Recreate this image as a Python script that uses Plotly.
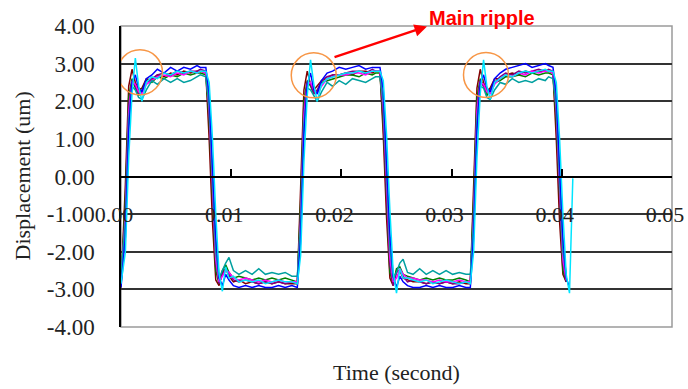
import plotly.graph_objects as go

# ---------------- data (seconds, um) ----------------
time_s = [
    0.0000, 0.0004, 0.0007, 0.0010, 0.0013, 0.0016, 0.0019, 0.0023, 0.0028, 0.0033, 0.0039, 0.0045, 0.0051, 0.0057, 0.0063, 0.0069, 0.0072,
    0.0077, 0.0080, 0.0083, 0.0086, 0.0089, 0.0092, 0.0095, 0.0098, 0.0102, 0.0107, 0.0113, 0.0119, 0.0125, 0.0131, 0.0137, 0.0143, 0.0149, 0.0155,
    0.0160, 0.0163, 0.0166, 0.0169, 0.0172, 0.0175, 0.0178, 0.0182, 0.0187, 0.0192, 0.0198, 0.0204, 0.0210, 0.0216, 0.0222, 0.0228, 0.0231,
    0.0235, 0.0238, 0.0241, 0.0244, 0.0247, 0.0250, 0.0253, 0.0256, 0.0260, 0.0265, 0.0271, 0.0277, 0.0283, 0.0289, 0.0295, 0.0301, 0.0307, 0.0313,
    0.0317, 0.0320, 0.0323, 0.0326, 0.0329, 0.0332, 0.0335, 0.0339, 0.0344, 0.0349, 0.0355, 0.0361, 0.0367, 0.0373, 0.0379, 0.0385, 0.0388,
    0.0392, 0.0395, 0.0398, 0.0401, 0.0404, 0.0407, 0.0410,
]

maroon = (
    [-2.95, -0.2, 2.4, 2.85, 2.5, 2.3, 2.35, 2.6, 2.55, 2.7, 2.65, 2.75, 2.7, 2.8, 2.75, 2.8, 2.8]
    + [2.75, 1.0, -1.2, -2.75, -2.9, -2.55, -2.45, -2.65, -2.8, -2.75, -2.85, -2.8, -2.85, -2.8, -2.85, -2.8, -2.85, -2.85]
    + [-2.85, -0.3, 2.3, 2.8, 2.45, 2.3, 2.4, 2.55, 2.6, 2.7, 2.7, 2.75, 2.7, 2.8, 2.8, 2.75, 2.8]
    + [2.8, 1.1, -1.1, -2.7, -2.9, -2.5, -2.5, -2.7, -2.75, -2.8, -2.8, -2.85, -2.8, -2.85, -2.8, -2.85, -2.8, -2.85]
    + [-2.85, -0.2, 2.35, 2.85, 2.5, 2.25, 2.35, 2.6, 2.6, 2.7, 2.75, 2.7, 2.8, 2.75, 2.8, 2.8, 2.8]
    + [2.75, 1.0, -1.2, -2.6, -2.8, None, None]
)
green = (
    [-2.9, -0.6, 2.1, 2.6, 2.35, 2.15, 2.3, 2.55, 2.5, 2.65, 2.6, 2.7, 2.65, 2.75, 2.7, 2.75, 2.75]
    + [2.7, 1.5, -0.7, -2.5, -2.85, -2.5, -2.35, -2.55, -2.7, -2.65, -2.7, -2.75, -2.7, -2.75, -2.7, -2.75, -2.7, -2.75]
    + [-2.8, -0.7, 2.0, 2.55, 2.4, 2.2, 2.25, 2.5, 2.55, 2.6, 2.65, 2.7, 2.7, 2.65, 2.75, 2.7, 2.75]
    + [2.75, 1.4, -0.8, -2.55, -2.85, -2.45, -2.4, -2.6, -2.65, -2.7, -2.75, -2.7, -2.75, -2.7, -2.75, -2.75, -2.7, -2.75]
    + [-2.8, -0.6, 2.1, 2.6, 2.4, 2.15, 2.3, 2.5, 2.55, 2.65, 2.65, 2.7, 2.65, 2.75, 2.7, 2.75, 2.75]
    + [2.7, 1.5, -0.7, -2.5, -2.8, None, None]
)
purple = (
    [-2.85, -0.9, 1.9, 2.55, 2.4, 2.2, 2.25, 2.5, 2.6, 2.7, 2.75, 2.7, 2.8, 2.75, 2.8, 2.8, 2.85]
    + [2.8, 1.7, -0.4, -2.3, -2.85, -2.6, -2.45, -2.6, -2.75, -2.8, -2.75, -2.8, -2.85, -2.8, -2.85, -2.8, -2.85, -2.8]
    + [-2.85, -1.0, 1.8, 2.5, 2.45, 2.2, 2.3, 2.55, 2.65, 2.7, 2.7, 2.75, 2.8, 2.8, 2.75, 2.85, 2.8]
    + [2.8, 1.6, -0.5, -2.35, -2.9, -2.55, -2.5, -2.65, -2.8, -2.75, -2.8, -2.85, -2.8, -2.85, -2.8, -2.85, -2.85, -2.8]
    + [-2.8, -0.9, 1.9, 2.55, 2.4, 2.25, 2.25, 2.5, 2.65, 2.75, 2.7, 2.8, 2.75, 2.8, 2.85, 2.8, 2.85]
    + [2.8, 1.7, -0.4, -2.3, -2.8, None, None]
)
magenta = (
    [-2.8, -1.1, 1.7, 2.5, 2.45, 2.25, 2.2, 2.45, 2.55, 2.65, 2.7, 2.65, 2.75, 2.7, 2.8, 2.75, 2.8]
    + [2.75, 1.8, -0.2, -2.2, -2.8, -2.65, -2.5, -2.55, -2.7, -2.75, -2.7, -2.75, -2.8, -2.75, -2.8, -2.75, -2.8, -2.8]
    + [-2.8, -1.2, 1.6, 2.45, 2.5, 2.3, 2.2, 2.4, 2.6, 2.65, 2.7, 2.7, 2.75, 2.75, 2.7, 2.8, 2.8]
    + [2.8, 1.9, -0.1, -2.15, -2.8, -2.7, -2.45, -2.6, -2.7, -2.7, -2.75, -2.75, -2.8, -2.75, -2.8, -2.8, -2.75, -2.8]
    + [-2.8, -1.1, 1.7, 2.5, 2.45, 2.25, 2.2, 2.45, 2.6, 2.7, 2.65, 2.75, 2.7, 2.8, 2.75, 2.8, 2.8]
    + [2.75, 1.8, -0.2, -2.2, -2.75, None, None]
)
teal = (
    [-2.6, -1.2, 1.5, 2.4, 2.3, 2.1, 2.05, 2.3, 2.55, 2.45, 2.6, 2.5, 2.6, 2.5, 2.55, 2.65, 2.7]
    + [2.65, 1.9, 0.0, -2.0, -2.7, -2.5, -2.3, -2.15, -2.5, -2.6, -2.5, -2.6, -2.45, -2.6, -2.55, -2.6, -2.55, -2.65]
    + [-2.65, -1.3, 1.4, 2.35, 2.3, 2.15, 2.0, 2.25, 2.5, 2.4, 2.55, 2.45, 2.6, 2.55, 2.5, 2.6, 2.65]
    + [2.65, 2.0, 0.1, -1.9, -2.7, -2.55, -2.3, -2.2, -2.55, -2.6, -2.45, -2.6, -2.5, -2.6, -2.5, -2.6, -2.55, -2.6]
    + [-2.6, -1.2, 1.5, 2.4, 2.35, 2.1, 2.05, 2.3, 2.5, 2.45, 2.6, 2.5, 2.55, 2.5, 2.6, 2.55, 2.65]
    + [2.6, 1.9, 0.0, -2.0, -2.6, None, None]
)
blue = (
    [-2.95, -1.6, 1.2, 2.5, 2.7, 2.35, 2.25, 2.6, 2.7, 2.85, 2.75, 2.9, 2.8, 2.9, 2.85, 2.95, 2.9]
    + [2.9, 2.2, 0.4, -1.6, -2.7, -2.9, -2.6, -2.75, -2.9, -2.95, -2.9, -2.95, -2.9, -2.95, -2.95, -2.9, -2.95, -2.9]
    + [-2.95, -1.7, 1.1, 2.45, 2.75, 2.3, 2.2, 2.55, 2.75, 2.8, 2.9, 2.85, 2.9, 2.95, 2.85, 2.9, 2.9]
    + [2.9, 2.3, 0.5, -1.5, -2.65, -2.95, -2.65, -2.8, -2.9, -2.95, -2.95, -2.9, -2.95, -2.9, -2.95, -2.95, -2.9, -2.95]
    + [-2.95, -1.6, 1.2, 2.5, 2.7, 2.35, 2.25, 2.6, 2.75, 2.85, 2.9, 2.95, 3.0, 2.9, 2.95, 3.0, 2.95]
    + [2.9, 2.2, 0.4, -1.6, -2.7, -2.95, None]
)
cyan = (
    [-2.85, -2.0, 0.5, 2.2, 3.15, 2.4, 2.0, 2.5, 2.65, 2.6, 2.75, 2.7, 2.8, 2.75, 2.8, 2.75, 2.8]
    + [2.8, 2.5, 1.0, -1.0, -2.6, -3.05, -2.4, -2.7, -2.65, -2.8, -2.75, -2.8, -2.75, -2.85, -2.8, -2.75, -2.8, -2.8]
    + [-2.85, -2.1, 0.4, 2.15, 3.1, 2.45, 2.0, 2.45, 2.6, 2.65, 2.7, 2.75, 2.75, 2.8, 2.75, 2.8, 2.8]
    + [2.8, 2.55, 1.1, -0.9, -2.55, -3.1, -2.45, -2.7, -2.7, -2.75, -2.8, -2.75, -2.85, -2.8, -2.75, -2.8, -2.85, -2.8]
    + [-2.85, -2.0, 0.5, 2.2, 3.1, 2.4, 2.05, 2.5, 2.6, 2.7, 2.65, 2.75, 2.8, 2.75, 2.8, 2.85, 2.8]
    + [2.8, 2.5, 1.0, -1.0, -2.6, -3.1, -0.05]
)

x_ticks = [0.00, 0.01, 0.02, 0.03, 0.04, 0.05]
x_tick_labels = ["0.00", "0.01", "0.02", "0.03", "0.04", "0.05"]
y_ticks = [-4, -3, -2, -1, 0, 1, 2, 3, 4]
y_tick_labels = ["-4.00", "-3.00", "-2.00", "-1.00", "0.00", "1.00", "2.00", "3.00", "4.00"]

# ripple markers (circle centres, data units) and arrow
ripple_t = [0.00172, 0.01749, 0.03312]
ripple_y = [2.77, 2.69, 2.70]

series = [
    ("s1", maroon, "#800000"),
    ("s2", green, "#008000"),
    ("s3", purple, "#800080"),
    ("s4", magenta, "#FF00FF"),
    ("s5", teal, "#00A0A0"),
    ("s6", blue, "#0000FF"),
    ("s7", cyan, "#00E5FF"),
]
for name, vals, _ in series:
    if len(vals) != len(time_s):
        raise ValueError(f"{name}: {len(vals)} vs {len(time_s)}")

fig = go.Figure()
for name, vals, color in series:
    fig.add_trace(go.Scatter(x=time_s, y=vals, mode="lines", name=name,
                             line=dict(color=color, width=1.5)))

shapes = []
rx, ry = 0.00204, 0.598
for t, y in zip(ripple_t, ripple_y):
    shapes.append(dict(type="circle", xref="x", yref="y",
                       x0=t - rx, x1=t + rx, y0=y - ry, y1=y + ry,
                       line=dict(color="#F79646", width=1.5), layer="above"))
shapes.append(dict(type="rect", xref="paper", yref="paper", x0=0, x1=1, y0=0, y1=1,
                   line=dict(color="#9A9A9A", width=1.5), layer="between"))

serif = "Liberation Serif, Times New Roman, serif"
annotations = [
    dict(x=0.02777, y=3.99, ax=0.01924, ay=3.16, xref="x", yref="y", axref="x", ayref="y",
         text="", showarrow=True, arrowhead=2, arrowsize=1, arrowwidth=2.5,
         arrowcolor="#FF0000", standoff=0, startstandoff=0),
    dict(x=0.02777, y=1, xref="x", yref="paper", yshift=8, xanchor="left", yanchor="middle",
         text="<b>Main ripple</b>", showarrow=False,
         font=dict(family="Liberation Sans, Arial, sans-serif", size=20, color="#FF0000")),
    dict(x=0, y=0.5, xref="paper", yref="paper", xshift=-99, xanchor="center", yanchor="middle",
         text="Displacement (um)", textangle=-90, showarrow=False,
         font=dict(family=serif, size=22, color="#222222")),
    dict(x=0.5, y=0, xref="paper", yref="paper", yshift=-45, xanchor="center", yanchor="middle",
         text="Time (second)", showarrow=False,
         font=dict(family=serif, size=22, color="#222222")),
]

fig.update_layout(
    width=688, height=389,
    margin=dict(l=121, r=16, t=26, b=62, autoexpand=False),
    paper_bgcolor="white", plot_bgcolor="white",
    showlegend=False,
    font=dict(family=serif, size=23, color="#222222"),
    shapes=shapes, annotations=annotations,
    xaxis=dict(range=[0, 0.05], tickvals=x_ticks, ticktext=x_tick_labels,
               tickfont=dict(family=serif, size=22, color="#222222"),
               showgrid=False, zeroline=False, showline=True, linecolor="#000000", linewidth=1.5,
               ticks="inside", ticklen=7, tickcolor="#000000", tickwidth=1.5,
               anchor="free", position=0.5, ticklabelstandoff=18, ticklabelshift=-7,
               ticklabeloverflow="allow", automargin=False),
    yaxis=dict(range=[-4, 4], tickvals=y_ticks, ticktext=y_tick_labels,
               showgrid=True, gridcolor="#333333", gridwidth=1.5, zeroline=False,
               showline=True, linecolor="#000000", linewidth=1.5, ticks="",
               ticklabelstandoff=20, automargin=False),
)

# remove the page's default body margin so the 688x389 figure fills the window exactly
fig.write_html("out.html",
               config={"displayModeBar": False},
               post_script="document.body.style.margin='0';document.body.style.overflow='hidden';")
